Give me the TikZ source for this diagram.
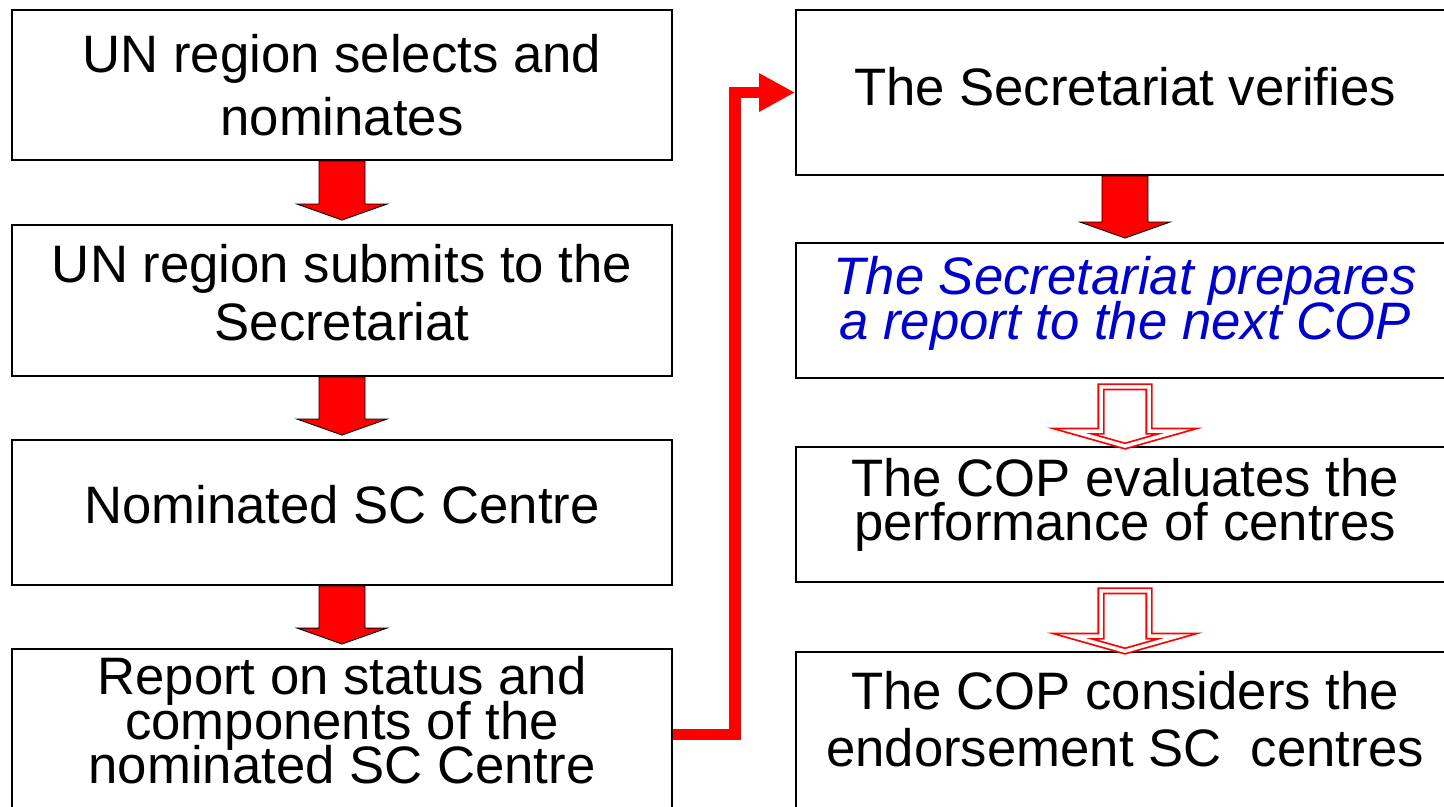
\documentclass[tikz,border=0pt]{standalone}
\usepackage{fontspec}
\setmainfont{Liberation Sans}
\usetikzlibrary{calc,arrows.meta}
\definecolor{slideblue}{RGB}{0,0,204}
\def\boxfont#1{\fontsize{30}{#1}\selectfont\lineskiplimit=-100pt}
\def\solidarrow(#1)(#2){\draw[fill=red, line width=0.5pt] ($(#1.south)+(-23,0)$) -- ($(#1.south)+(23,0)$) -- ($(#2.north)+(23,-20)$) -- ($(#2.north)+(45,-20)$) -- ($(#2.north)+(0,-4)$) -- ($(#2.north)+(-45,-20)$) -- ($(#2.north)+(-23,-20)$) -- cycle;}
\def\hollowarrow(#1)(#2){\draw[red, fill=white, double=white, double distance=2pt, line width=1pt] ($(#1.south)+(-24,8)$) -- ($(#1.south)+(24,8)$) -- ($(#2.north)+(24,-15)$) -- ($(#2.north)+(53,-15)$) -- ($(#2.north)+(0,0)$) -- ($(#2.north)+(-53,-15)$) -- ($(#2.north)+(-24,-15)$) -- cycle;}

\begin{document}
\begin{tikzpicture}[x=0.02cm, y=-0.02cm,
	stepbox/.style={draw, line width=1.1pt, inner sep=2pt, align=center, fill=white},
	leftbox/.style={stepbox, minimum width=13.2cm},
	rightbox/.style={stepbox, minimum width=13.16cm}]
		%%%%% START %%%%%
		
		\useasboundingbox (0,0) rectangle (1444,806);
		\clip (0,0) rectangle (1444,806);
		
		% left column
		\node[leftbox, minimum height=3cm, font=\boxfont{35.8}] (nominate) at (342,85) {UN region selects and\\nominates};
		\node[leftbox, minimum height=3.02cm, font=\boxfont{33}, text depth=9pt] (submit) at (342,300.5) {UN region submits to the\\Secretariat};
		\node[leftbox, minimum height=2.9cm, font=\boxfont{36}, text depth=9pt] (centre) at (342,512.5) {Nominated SC Centre};
		\node[leftbox, minimum height=3.42cm, font=\boxfont{25.5}, text depth=16.5pt] (report) at (342,734.5) {Report on status and\\components of the\\nominated SC Centre};
		
		% right column
		\node[rightbox, minimum height=3.3cm, font=\boxfont{36}, text depth=7pt] (verify) at (1125,92.5) {The Secretariat verifies};
		\node[rightbox, minimum height=2.7cm, font=\boxfont{25.6}\itshape, text=slideblue, text depth=14.5pt] (prepare) at (1125,310.5) {The Secretariat prepares\\a report to the next COP};
		\node[rightbox, minimum height=2.7cm, font=\boxfont{25}, text depth=17pt] (evaluate) at (1125,514.5) {The COP evaluates the\\performance of centres};
		\node[rightbox, minimum height=3.36cm, font=\boxfont{32.4}, text depth=19.3pt] (endorse) at (1125,736) {The COP considers the\\endorsement SC\ \ centres};
		
		\solidarrow(nominate)(submit)
		\solidarrow(submit)(centre)
		\solidarrow(centre)(report)
		\solidarrow(verify)(prepare)
		\hollowarrow(prepare)(evaluate)
		\hollowarrow(evaluate)(endorse)
		
		\draw[red, line width=6.8pt, -{Triangle[length=20.5pt,width=20.5pt]}] (report.east) -- ++(62,0) |- (verify.west);
		
		%%%%% END %%%%%
	\end{tikzpicture}
\end{document}
